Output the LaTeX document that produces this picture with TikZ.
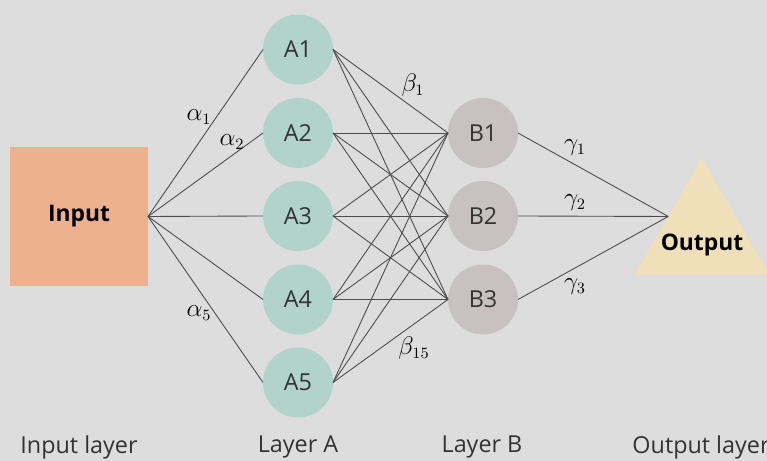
\documentclass[tikz,border=0pt]{standalone}
\usepackage{fontspec}
\setmainfont{Open Sans}
\usetikzlibrary{shapes.geometric}
\definecolor{bgcol}{RGB}{221,221,221}
\definecolor{incol}{RGB}{237,177,144}
\definecolor{acol}{RGB}{178,211,201}
\definecolor{bcol}{RGB}{200,193,193}
\definecolor{outcol}{RGB}{240,224,185}
\definecolor{txtcol}{RGB}{51,51,51}
\begin{document}
\begin{tikzpicture}
		% layered network: input, two hidden layers and output
		[unitA/.style={circle,fill=acol,minimum size=1.4cm,inner sep=0pt,outer sep=0pt,text=txtcol,font=\fontsize{13.3}{16}\selectfont},
		 unitB/.style={unitA,fill=bcol},
		 wire/.style={line width=0.5pt,draw=black!70},
		 wlabel/.style={font=\fontsize{13.5}{16}\selectfont},
		 layername/.style={text=txtcol,font=\fontsize{13.3}{16}\selectfont}]
		\useasboundingbox (0,0) rectangle (15.34,9.22);
		\fill[bgcol] (0,0) rectangle (15.34,9.22);

		\node[fill=incol,minimum width=2.76cm,minimum height=2.78cm,inner sep=0pt,outer sep=0pt,font=\fontsize{13}{15}\selectfont\bfseries] (in) at (1.58,4.89) {Input};

		\node[unitA] (a1) at (5.96,8.23) {A1};
		\node[unitA] (a2) at (5.96,6.56) {A2};
		\node[unitA] (a3) at (5.96,4.90) {A3};
		\node[unitA] (a4) at (5.96,3.23) {A4};
		\node[unitA] (a5) at (5.96,1.57) {A5};

		\node[unitB] (b1) at (9.66,6.56) {B1};
		\node[unitB] (b2) at (9.66,4.90) {B2};
		\node[unitB] (b3) at (9.66,3.23) {B3};

		\node[regular polygon,regular polygon sides=3,minimum size=3.12cm,inner sep=0pt,outer sep=0pt,fill=outcol] (out) at (14.04,4.50) {};
		\node[font=\fontsize{13}{15}\selectfont\bfseries] (outtxt) at (14.04,4.32) {Output};

		\foreach \i in {1,...,5}
			\draw[wire] (in.east) -- (a\i.west);
		\foreach \i in {1,...,5}
			\foreach \j in {1,2,3}
				\draw[wire] (a\i.east) -- (b\j.west);
		\foreach \j in {1,2,3}
			\draw[wire] (b\j.east) -- (out.side 1);

		\node[wlabel] (al1) at (3.98,6.88) {$\alpha_1$};
		\node[wlabel] (al2) at (4.64,6.38) {$\alpha_2$};
		\node[wlabel] (al5) at (3.98,2.96) {$\alpha_5$};
		\node[wlabel] (be1) at (8.26,7.52) {$\beta_1$};
		\node[wlabel] (be15) at (8.28,2.26) {$\beta_{15}$};
		\node[wlabel] (ga1) at (11.5,6.26) {$\gamma_1$};
		\node[wlabel] (ga2) at (11.5,5.16) {$\gamma_2$};
		\node[wlabel] (ga3) at (11.5,3.48) {$\gamma_3$};

		\node[layername] (lin) at (1.58,0.28) {Input layer};
		\node[layername] (la) at (5.96,0.28) {Layer A};
		\node[layername] (lb) at (9.64,0.28) {Layer B};
		\node[layername] (lout) at (14.02,0.28) {Output layer};
	\end{tikzpicture}
\end{document}
